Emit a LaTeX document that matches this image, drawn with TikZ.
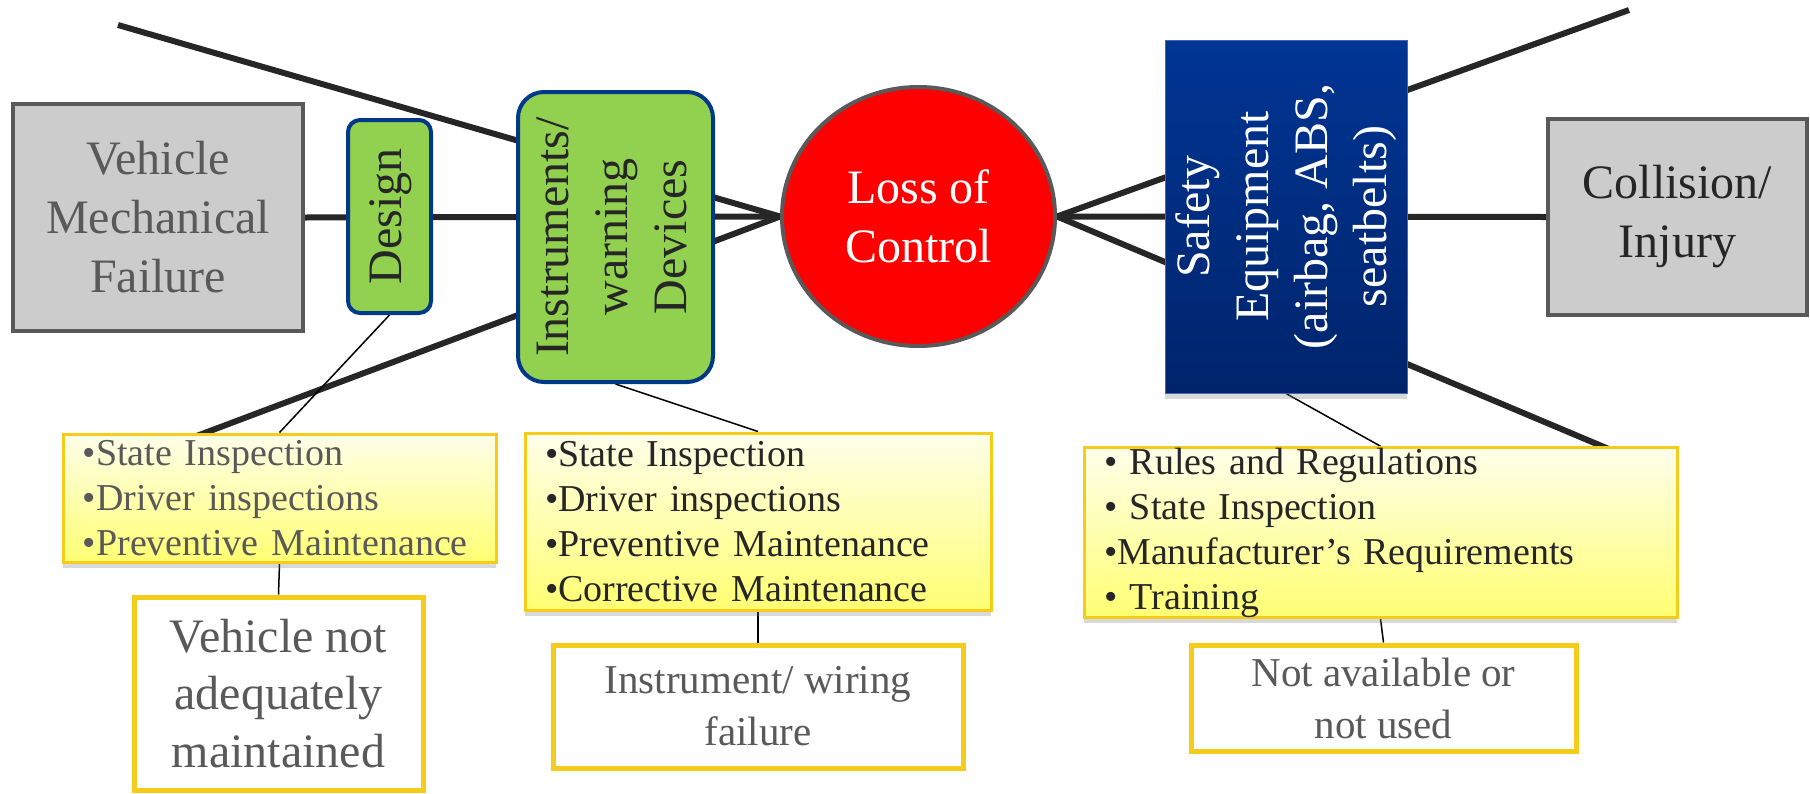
\documentclass[tikz,border=0pt]{standalone}
\usepackage{fontspec}
\setmainfont{Liberation Serif}
\usetikzlibrary{shapes.geometric,backgrounds,shadows}
\definecolor{spine}{HTML}{262626}
\definecolor{boxgray}{HTML}{CCCCCC}
\definecolor{edgegray}{HTML}{595959}
\definecolor{leaf}{HTML}{92D050}
\definecolor{navy}{HTML}{00388A}
\definecolor{safetop}{HTML}{003594}
\definecolor{safebot}{HTML}{00246B}
\definecolor{gold}{HTML}{F5CC1A}
\definecolor{ink}{HTML}{262626}
\newcommand{\vtext}[1]{\rotatebox{90}{\begin{tabular}{@{}c@{}}#1\end{tabular}}}

\begin{document}
\begin{tikzpicture}[x=0.5pt,y=-0.5pt,
    big/.style={font=\fontsize{24}{29.5}\selectfont,align=center,inner sep=0pt},
    graybox/.style={big,draw=edgegray,line width=2pt,fill=boxgray},
    greenbox/.style={big,draw=navy,line width=2pt,fill=leaf,text=ink},
    listbox/.style={draw=gold,line width=1.5pt,top color=yellow!8,bottom color=yellow!55,
        drop shadow={shadow xshift=0pt,shadow yshift=-3pt,opacity=0.3},
        font=\fontsize{19}{22.5}\selectfont,align=left,inner xsep=10pt,inner ysep=0pt},
    notebox/.style={draw=gold,line width=2.5pt,fill=white,text=edgegray,align=center,inner sep=0pt},
    spineline/.style={draw=spine,line width=3pt},
    thinline/.style={draw=black,line width=0.75pt}]
    \useasboundingbox (0,0) rectangle (1810,793);
    % top row
    \node[graybox,text=edgegray,minimum width=145pt,minimum height=113.5pt] (veh) at (158,217.5) {Vehicle\\Mechanical\\Failure};
    \node[greenbox,rounded corners=6pt,minimum width=41.5pt,minimum height=96.5pt] (design) at (389.5,216.5) {\vtext{Design}};
    \node[greenbox,rounded corners=13pt,minimum width=97.5pt,minimum height=145pt] (instr) at (615.5,237) {\vtext{Instruments/\\warning\\Devices}};
    \node[big,ellipse,draw=edgegray,line width=2pt,fill=red,text=white,minimum width=136.5pt,minimum height=129.5pt] (loss) at (918.5,216.5) {Loss of\\Control};
    \node[big,text=white,top color=safetop,bottom color=safebot,draw=safetop!75!white,line width=0.5pt,
        drop shadow={shadow xshift=0pt,shadow yshift=-3pt,opacity=0.3},
        minimum width=121pt,minimum height=176.5pt] (safety) at (1286,216.5) {\vtext{Safety\\Equipment\\(airbag, ABS,\\seatbelts)}};
    \node[graybox,text=ink,minimum width=129.5pt,minimum height=98pt] (coll) at (1677.5,217) {Collision/\\Injury};
    % barriers
    \node[listbox,text=edgegray,text width=196.5pt,minimum height=64pt] (list1) at (279.5,498) {•State Inspection\\•Driver inspections\\•Preventive Maintenance};
    \node[listbox,text=ink,text width=213pt,minimum height=88.5pt] (list2) at (758,521.5) {•State Inspection\\•Driver inspections\\•Preventive Maintenance\\•Corrective Maintenance};
    \node[listbox,text=ink,text width=276.5pt,minimum height=83.5pt] (list3) at (1380.5,532.5) {• Rules and Regulations\\• State Inspection\\•Manufacturer’s Requirements\\• Training};
    % failures
    \node[notebox,font=\fontsize{24}{28.75}\selectfont,minimum width=144.5pt,minimum height=96.5pt] (note1) at (278.5,693.5) {Vehicle not\\adequately\\maintained};
    \node[notebox,font=\fontsize{20.5}{26}\selectfont,minimum width=205pt,minimum height=61.5pt] (note2) at (758,706.5) {Instrument/ wiring\\failure};
    \node[notebox,font=\fontsize{20.5}{26}\selectfont,minimum width=192.5pt,minimum height=53pt] (note3) at (1383.5,698) {Not available or\\not used};
    \coordinate (tl) at (118,25);
    \coordinate (bl) at (186,440);
    \coordinate (tr) at (1629,10);
    \coordinate (br) at (1623,455);
    \begin{scope}[on background layer]
        \draw[spineline] (veh.east)--(loss.west);
        \foreach \p in {tl,bl} \draw[spineline] (\p)--(loss.west);
        \foreach \p in {tr,br,coll.west} \draw[spineline] (loss.east)--(\p);
        \foreach \a/\b in {design/list1,list1/note1,instr/list2,list2/note2,safety/list3,list3/note3}
        \draw[thinline] (\a.south)--(\b.north);
    \end{scope}
\end{tikzpicture}
\end{document}
